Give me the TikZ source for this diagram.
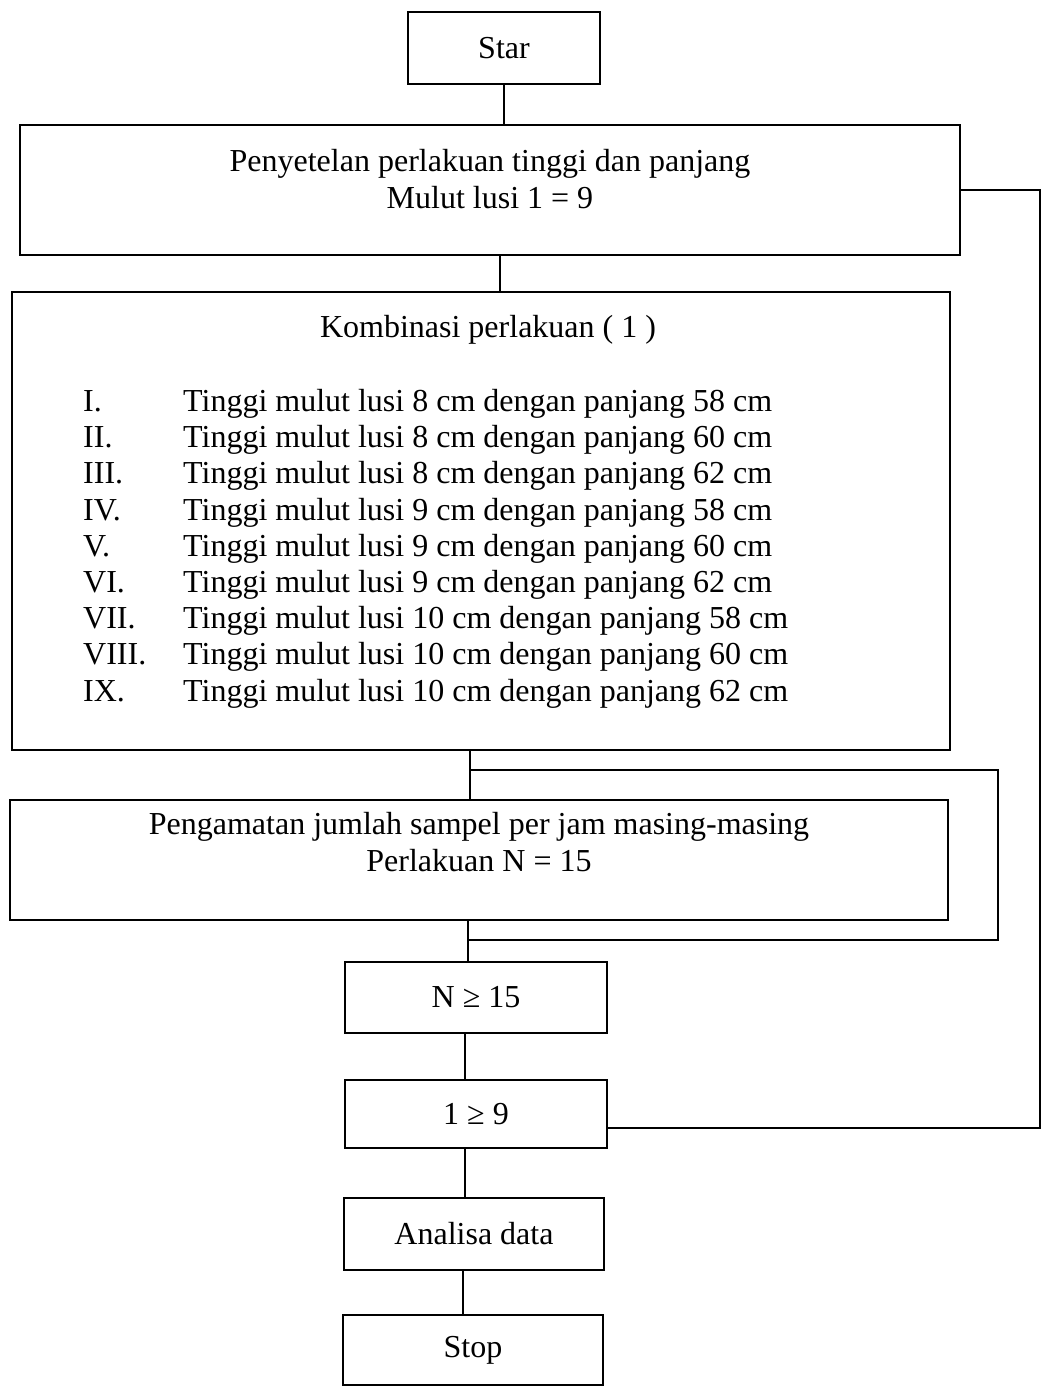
\documentclass[tikz,border=0pt]{standalone}
\usepackage{fontspec}
\setmainfont{Liberation Serif}
\usetikzlibrary{positioning,calc}

\begin{document}
\begin{tikzpicture}[x=1pt,y=1pt,
 node distance=40pt,
 box/.style={draw,line width=1.8pt,outer sep=0pt,minimum width=262pt,minimum height=71pt,align=center,
   font=\fontsize{32}{36.2}\selectfont},
 wide/.style={box,minimum width=938pt},
 txt/.style={inner sep=0pt,font=\fontsize{32}{36.2}\selectfont},
 line/.style={line width=1.8pt}]
 \useasboundingbox (0,0) rectangle (1044,-1387);
 \node[box,minimum width=192pt,minimum height=72pt] (start) at (504,-48) {Star};
 \node[wide,minimum width=940pt,minimum height=130pt,below=41pt of start,xshift=-14pt] (pen)
   {Penyetelan perlakuan tinggi dan panjang\\Mulut lusi 1 = 9\\[-14pt]\mbox{}};
 \node[wide,minimum height=458pt,below=37pt of pen,xshift=-9pt] (komb) {};
 \node[txt,below=23pt of komb.north,xshift=7pt] (kombt) {Kombinasi perlakuan ( 1 )};
 \node[txt,anchor=north west] (list) at ($(komb.north west)+(71,-94)$) {%
  \begin{tabular}{@{}p{100pt}@{}l@{}}
   I.    & Tinggi mulut lusi 8 cm dengan panjang 58 cm\\
   II.   & Tinggi mulut lusi 8 cm dengan panjang 60 cm\\
   III.  & Tinggi mulut lusi 8 cm dengan panjang 62 cm\\
   IV.   & Tinggi mulut lusi 9 cm dengan panjang 58 cm\\
   V.    & Tinggi mulut lusi 9 cm dengan panjang 60 cm\\
   VI.   & Tinggi mulut lusi 9 cm dengan panjang 62 cm\\
   VII.  & Tinggi mulut lusi 10 cm dengan panjang 58 cm\\
   VIII. & Tinggi mulut lusi 10 cm dengan panjang 60 cm\\
   IX.   & Tinggi mulut lusi 10 cm dengan panjang 62 cm
  \end{tabular}};
 \node[wide,minimum height=120pt,below=50pt of komb,xshift=-2pt] (amat)
   {Pengamatan jumlah sampel per jam masing-masing\\Perlakuan N = 15\\[0pt]\mbox{}};
 \node[box,below=42pt of amat,xshift=-3pt] (n15) {N ≥ 15};
 \node[box,minimum height=68pt,below=47pt of n15] (i9) {1 ≥ 9};
 \node[box,minimum width=260pt,minimum height=72pt,below=50pt of i9,xshift=-2pt] (anal) {Analisa data};
 \node[box,minimum width=260pt,minimum height=70pt,below=45pt of anal,xshift=-1pt] (stop) {Stop};
 % connectors
 \draw[line] (start.south) -- (start.south |- pen.north);
 \coordinate (p1) at ([xshift=10pt]pen.south);
 \draw[line] (p1) -- (p1 |- komb.north);
 \foreach \a/\b in {komb/amat,amat/n15,n15/i9,i9/anal,anal/stop}{
  \coordinate (c) at ([xshift=-11pt]\a.south);
  \draw[line] (c) -- (c |- \b.north);
 }
 % loops back
 \coordinate (j1) at ($([xshift=-11pt]komb.south)!0.4!([xshift=-11pt]komb.south |- amat.north)$);
 \coordinate (j2) at ($([xshift=-11pt]amat.south)!0.48!([xshift=-11pt]amat.south |- n15.north)$);
 \draw[line] (j2) -| ([xshift=50pt]amat.east) |- (j1);
 \coordinate (back) at ([yshift=-14pt]i9.east);
 \draw[line] (back) -| ([xshift=80pt]pen.east) |- (pen.east);
\end{tikzpicture}
\end{document}
